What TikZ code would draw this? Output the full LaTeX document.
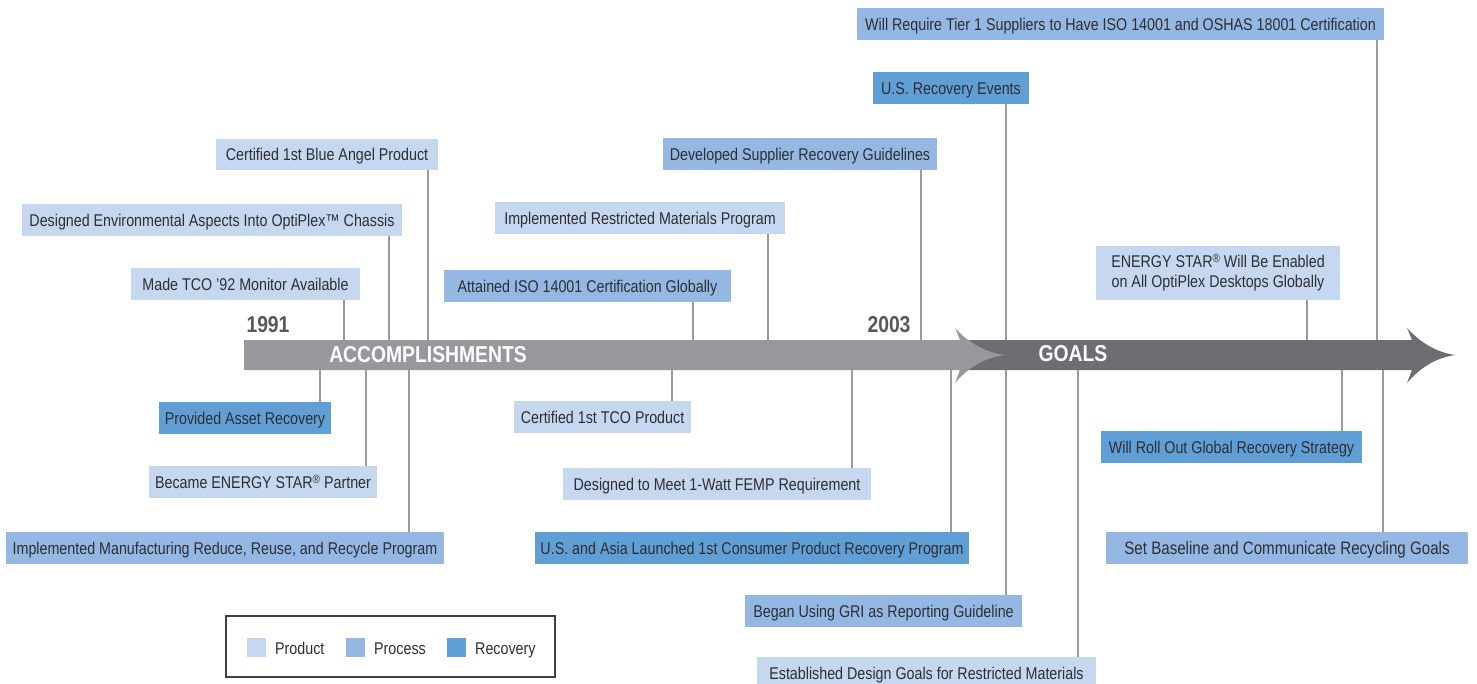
\documentclass[tikz,border=0pt]{standalone}
\usepackage{fontspec}
\setmainfont{Liberation Sans}[FakeStretch=0.84]
\definecolor{prod}{HTML}{C5D8F0}
\definecolor{proc}{HTML}{94B8E3}
\definecolor{reco}{HTML}{609FD5}
\definecolor{barA}{HTML}{97989C}
\definecolor{barG}{HTML}{6D6E72}
\definecolor{conn}{HTML}{9B9B9F}
\definecolor{txt}{HTML}{2E2E33}
\definecolor{yr}{HTML}{58585C}
\newcommand\tlbox[7]{\node[#2, minimum width={#5-#3}, minimum height={#6-#4}] (#1) at ({(#3+#5)/2},{(#4+#6)/2}) {#7};}
\newcommand\regmark{\raisebox{5pt}{\fontsize{12}{12}\selectfont ®}}
\begin{document}
\begin{tikzpicture}[x=1pt,y=-1pt,
  tbox/.style={inner sep=0pt, text=txt, font=\fontsize{17}{20}\selectfont, align=center, text height=12.5pt, text depth=0pt},
  product/.style={tbox, fill=prod},
  process/.style={tbox, fill=proc},
  recovery/.style={tbox, fill=reco},
  twoline/.style={text height=, text depth=},
  conline/.style={draw=conn, line width=2.2pt},
  barlabel/.style={text=white, font=\bfseries\fontsize{23}{25}\selectfont, inner sep=0pt},
  year/.style={text=yr, font=\bfseries\fontsize{23}{25}\selectfont, inner sep=0pt},
  legtext/.style={text=txt, font=\fontsize{17}{20}\selectfont, inner sep=0pt, anchor=west, text height=12.5pt, text depth=0pt},
  swatch/.style={minimum width=19pt, minimum height=19pt, inner sep=0pt}
]
\useasboundingbox (0,0) rectangle (1477,683);

% timeline bars
\fill[barG] (960,340) -- (1412,340) -- (1407,328)
  .. controls (1420,342) and (1435,352) .. (1455,355)
  .. controls (1435,358) and (1420,368) .. (1407,383)
  -- (1412,370) -- (960,370) -- cycle;
\fill[barA] (244,340) -- (960,340) -- (955,328)
  .. controls (968,342) and (983,352) .. (1005,355)
  .. controls (983,358) and (968,368) .. (955,383)
  -- (960,370) -- (244,370) -- cycle;
\node[barlabel] (acc) at (428,355) {ACCOMPLISHMENTS};
\node[barlabel] (goals) at (1073,354) {GOALS};
\node[year] (y1991) at (268,325) {1991};
\node[year] (y2003) at (889,325) {2003};

% boxes above
\tlbox{a1}{process}{857}{8}{1384}{40}{Will Require Tier 1 Suppliers to Have ISO 14001 and OSHAS 18001 Certification}
\tlbox{a2}{recovery}{873}{72}{1029}{104}{U.S. Recovery Events}
\tlbox{a3}{product}{216}{139}{438}{170}{Certified 1st Blue Angel Product}
\tlbox{a4}{process}{663}{138}{937}{170}{Developed Supplier Recovery Guidelines}
\tlbox{a5}{product}{22}{204}{402}{236}{Designed Environmental Aspects Into OptiPlex™ Chassis}
\tlbox{a6}{product}{495}{202}{785}{234}{Implemented Restricted Materials Program}
\tlbox{a7}{product}{131}{268}{360}{300}{Made TCO '92 Monitor Available}
\tlbox{a8}{process}{444}{270}{731}{302}{Attained ISO 14001 Certification Globally}
\tlbox{a9}{product,twoline}{1096}{246}{1340}{300}{ENERGY STAR\regmark{} Will Be Enabled\\on All OptiPlex Desktops Globally}

% boxes below
\tlbox{b1}{recovery}{159}{402}{331}{434}{Provided Asset Recovery}
\tlbox{b2}{product}{149}{466}{377}{498}{Became ENERGY STAR\regmark{} Partner}
\tlbox{b3}{process}{6}{532}{444}{564}{Implemented Manufacturing Reduce, Reuse, and Recycle Program}
\tlbox{b4}{product}{514}{401}{691}{433}{Certified 1st TCO Product}
\tlbox{b5}{product}{563}{468}{871}{500}{Designed to Meet 1-Watt FEMP Requirement}
\tlbox{b6}{recovery}{535}{532}{969}{564}{U.S. and Asia Launched 1st Consumer Product Recovery Program}
\tlbox{b7}{process}{745}{595}{1022}{627}{Began Using GRI as Reporting Guideline}
\tlbox{b8}{product}{757}{657}{1096}{690}{Established Design Goals for Restricted Materials}
\tlbox{b9}{recovery}{1101}{431}{1362}{463}{Will Roll Out Global Recovery Strategy}
\tlbox{b10}{process}{1106}{532}{1468}{564}{\fontsize{18}{20}\selectfont Set Baseline and Communicate Recycling Goals}

% connection points on the bar
\coordinate (ta1) at (1377,340);
\coordinate (ta2) at (1006,340);
\coordinate (ta3) at (428,340);
\coordinate (ta4) at (921,340);
\coordinate (ta5) at (389,340);
\coordinate (ta6) at (768,340);
\coordinate (ta7) at (344,340);
\coordinate (ta8) at (693,340);
\coordinate (ta9) at (1307,340);
\coordinate (tb1) at (320,370);
\coordinate (tb2) at (366,370);
\coordinate (tb3) at (409,370);
\coordinate (tb4) at (672,370);
\coordinate (tb5) at (852,370);
\coordinate (tb6) at (951,370);
\coordinate (tb7) at (1006,370);
\coordinate (tb8) at (1078,370);
\coordinate (tb9) at (1342,370);
\coordinate (tb10) at (1383,370);

\foreach \n in {a1,a2,a3,a4,a5,a6,a7,a8,a9}
  \draw[conline] (\n.south -| t\n) -- (t\n);
\foreach \n in {b1,b2,b3,b4,b5,b6,b7,b8,b9,b10}
  \draw[conline] (t\n) -- (\n.north -| t\n);

% legend
\node[draw=black!75, line width=1.3pt, minimum width=329pt, minimum height=61pt, inner sep=0pt] (legend) at (390.5,646.5) {};
\node[swatch, fill=prod] (sw1) at (256.5,647.5) {};
\node[legtext] (l1) at (275,648) {Product};
\node[swatch, fill=proc] (sw2) at (355.5,647.5) {};
\node[legtext] (l2) at (374,648) {Process};
\node[swatch, fill=reco] (sw3) at (456.5,647.5) {};
\node[legtext] (l3) at (475,648) {Recovery};
\end{tikzpicture}
\end{document}
